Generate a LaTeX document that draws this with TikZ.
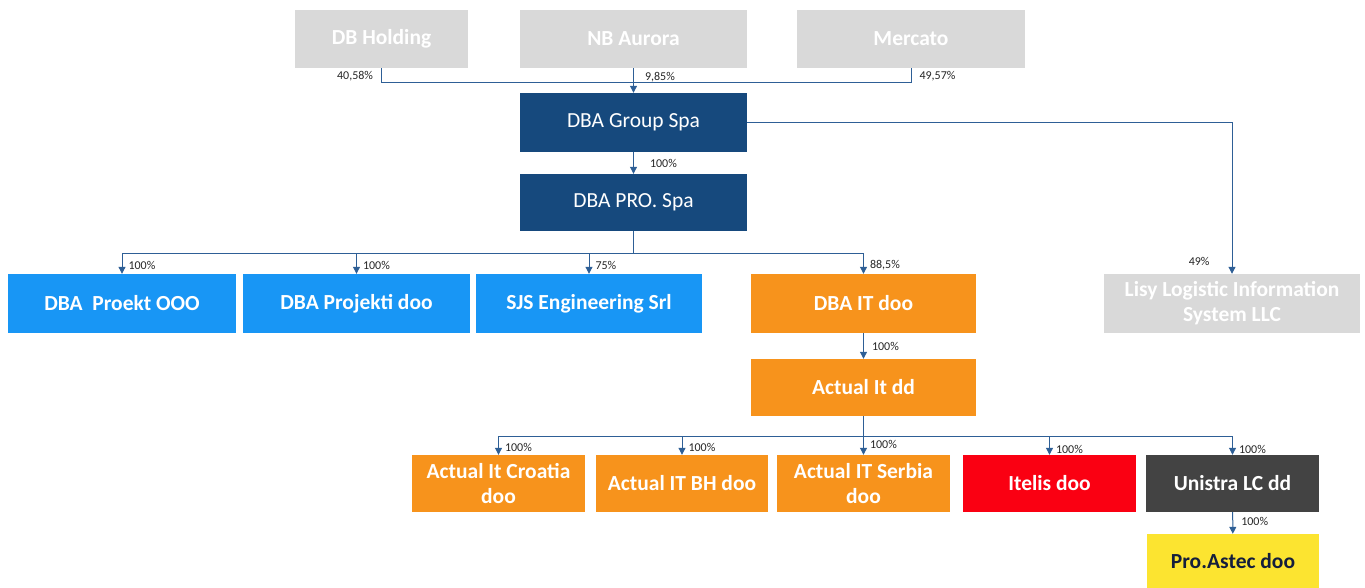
\documentclass[tikz,border=0pt]{standalone}
\usepackage{fontspec}
\setmainfont{Carlito}
\usetikzlibrary{arrows.meta}

\definecolor{navy}{RGB}{22,73,125}
\definecolor{sky}{RGB}{24,150,245}
\definecolor{amber}{RGB}{247,147,28}
\definecolor{greybox}{RGB}{217,217,217}
\definecolor{redbox}{RGB}{250,0,18}
\definecolor{darkbox}{RGB}{67,67,67}
\definecolor{yellowbox}{RGB}{252,228,48}
\definecolor{linkblue}{RGB}{46,95,150}

\tikzset{
	box/.style={fill=#1, text=white, align=center, inner sep=0pt,
		font=\fontsize{21.5}{25}\selectfont\bfseries},
	link/.style={draw=linkblue, line width=1pt, -{Triangle[width=7pt,length=7pt]}},
	bus/.style={draw=linkblue, line width=1pt},
	pct/.style={font=\fontsize{12}{13}\selectfont, text=black!85, inner sep=2pt}
}

\begin{document}
\begin{tikzpicture}[x=1pt,y=-1pt]
	\useasboundingbox (0,0) rectangle (1365,587);

	% shareholders
	\node[box=greybox, minimum width=173, minimum height=58] (dbh) at (381.5, 39)  {DB Holding};
	\node[box=greybox, minimum width=227, minimum height=58] (nba) at (633.5, 39)  {NB Aurora};
	\node[box=greybox, minimum width=228, minimum height=58] (merc) at (911, 39)   {Mercato};

	\node[box=navy, minimum width=227, minimum height=59, font=\fontsize{21.5}{25}\selectfont] (group) at (633.5, 122.5) {DBA Group Spa};
	\node[box=navy, minimum width=227, minimum height=57, font=\fontsize{21.5}{25}\selectfont] (pro)   at (633.5, 202.5) {DBA PRO. Spa};

	% second level
	\node[box=sky,     minimum width=228, minimum height=59] (proekt)   at (122, 303.5)   {DBA~ Proekt OOO};
	\node[box=sky,     minimum width=227, minimum height=59] (projekti) at (356.5, 303.5) {DBA Projekti doo};
	\node[box=sky,     minimum width=226, minimum height=59] (sjs)      at (589, 303.5)   {SJS Engineering Srl};
	\node[box=amber,   minimum width=225, minimum height=59] (dbait)    at (863.5, 303.5) {DBA IT doo};
	\node[box=greybox, minimum width=256, minimum height=59] (lisy)     at (1232, 303.5)  {Lisy Logistic Information\\System LLC};

	\node[box=amber, minimum width=225, minimum height=57] (actual) at (863.5, 387.5) {Actual It dd};

	% third level
	\node[box=amber,   minimum width=173, minimum height=57] (croatia) at (498.5, 483.5)  {Actual It Croatia\\doo};
	\node[box=amber,   minimum width=172, minimum height=57] (bh)      at (682, 483.5)    {Actual IT BH doo};
	\node[box=amber,   minimum width=173, minimum height=57] (serbia)  at (863.5, 483.5)  {Actual IT Serbia\\doo};
	\node[box=redbox,  minimum width=173, minimum height=57] (itelis)  at (1049.5, 483.5) {Itelis doo};
	\node[box=darkbox, minimum width=173, minimum height=57] (unistra) at (1232.5, 483.5) {Unistra LC dd};
	\node[box=yellowbox, minimum width=172, minimum height=55, text={rgb,255:red,20;green,30;blue,60}] (astec) at (1233, 561.5) {Pro.Astec doo};

	\coordinate (topbus) at (633.5, 82);
	\coordinate (probus) at (633.5, 253);
	\coordinate (actbus) at (863.5, 436);

	% ownership lines
	\path[bus] (dbh.south) |- node[pct, pos=0.3, left, xshift=-6pt] {40,58\%} (topbus);
	\path[bus] (merc.south) |- node[pct, pos=0.3, right, xshift=6pt] {49,57\%} (topbus);
	\path[link] (nba) -- node[pct, pos=0.38, right, xshift=9pt] {9,85\%} (group);
	\path[link] (group) -- node[pct, right, xshift=14pt] {100\%} (pro);
	\path[link] (group.east) -| node[pct, pos=0.96, left, xshift=-20pt] {49\%} (lisy.north);

	\path[bus] (pro) -- (probus);
	\path[link] (probus) -| node[pct, pos=0.8, right, xshift=4pt] {100\%} (proekt.north);
	\path[link] (probus) -| node[pct, pos=0.8, right, xshift=4pt] {100\%} (projekti.north);
	\path[link] (probus) -| node[pct, pos=0.8, right, xshift=4pt] {75\%} (sjs.north);
	\path[link] (probus) -| node[pct, pos=0.8, right, xshift=4pt] {88,5\%} (dbait.north);

	\path[link] (dbait) -- node[pct, right, xshift=6pt] {100\%} (actual);

	\path[bus] (actual) -- (actbus);
	\path[link] (actbus) -| node[pct, pos=0.8, right, xshift=4pt] {100\%} (croatia.north);
	\path[link] (actbus) -| node[pct, pos=0.8, right, xshift=4pt] {100\%} (bh.north);
	\path[link] (actbus) -- node[pct, pos=0.45, right, xshift=4pt] {100\%} (serbia.north);
	\path[link] (actbus) -| node[pct, pos=0.85, right, xshift=4pt] {100\%} (itelis.north);
	\path[link] (actbus) -| node[pct, pos=0.85, right, xshift=4pt] {100\%} (unistra.north);

	\path[link] (unistra) -- node[pct, pos=0.45, right, xshift=6pt] {100\%} (astec);
\end{tikzpicture}
\end{document}
